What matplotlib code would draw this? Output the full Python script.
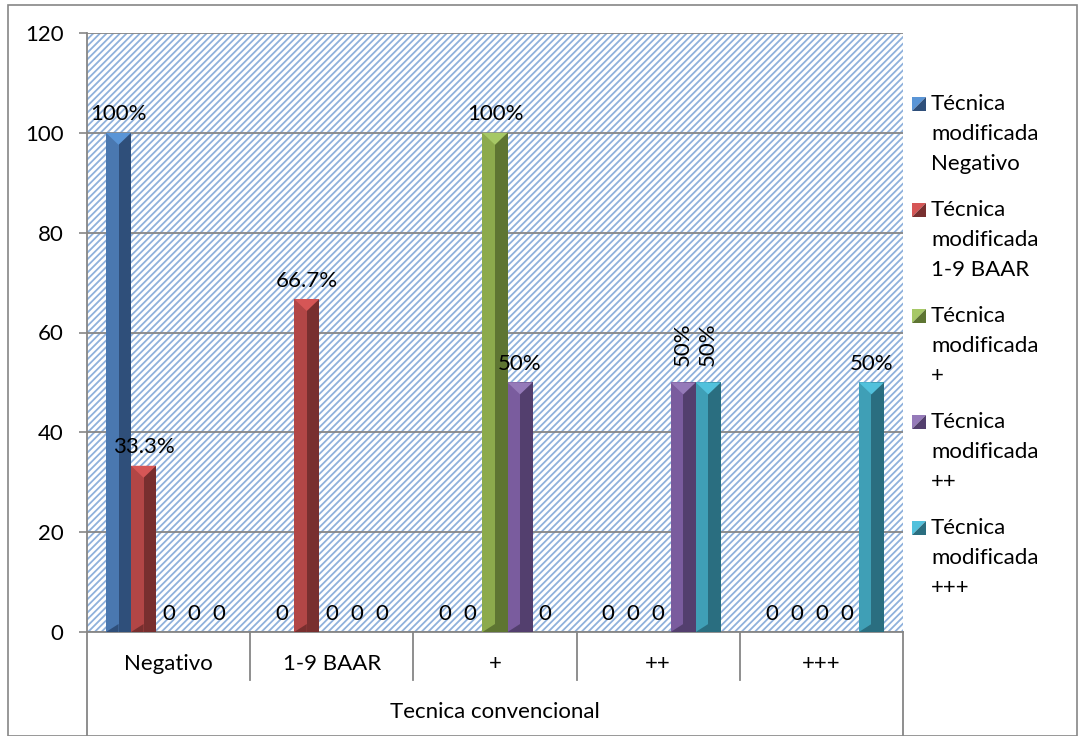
import numpy as np
import matplotlib
matplotlib.use("Agg")
import matplotlib.pyplot as plt
from matplotlib.patches import Polygon, Rectangle

plt.rcParams['font.family'] = ['Lato', 'DejaVu Sans']
plt.rcParams['hatch.linewidth'] = 1.3

# data: conventional technique (x groups) vs modified technique (series), %
categories = ['Negativo', '1-9 BAAR', '+', '++', '+++']
series_names = ['Técnica\nmodificada\nNegativo', 'Técnica\nmodificada\n1-9 BAAR',
                'Técnica\nmodificada\n+', 'Técnica\nmodificada\n++',
                'Técnica\nmodificada\n+++']
neg_vals = [100, 0, 0, 0, 0]
baar_vals = [33.3, 66.7, 0, 0, 0]
plus1_vals = [0, 0, 100, 0, 0]
plus2_vals = [0, 0, 50, 50, 0]
plus3_vals = [0, 0, 0, 50, 50]
values = [neg_vals, baar_vals, plus1_vals, plus2_vals, plus3_vals]
rotated_group = 3  # labels of "++" are drawn vertically

# (light side, dark side, top facet)
colors = [('#4a78b0', '#2f4f7a', '#5a95d6'),
          ('#b24646', '#782f2f', '#d65656'),
          ('#8caa4c', '#5e7532', '#a6c866'),
          ('#7a5c9e', '#533f6e', '#957ab9'),
          ('#3f9fb6', '#2a6e80', '#52c1dc')]

FS = 16
W, H = 1081, 736
fig = plt.figure(figsize=(W / 100, H / 100), dpi=100)
ax = fig.add_axes([87 / W, 1 - 632 / H, (903 - 87) / W, (632 - 33) / H])

# outer chart border
fig.patches.append(Rectangle((8 / W, 0), (1077 - 8) / W, 1 - 5 / H,
                             transform=fig.transFigure, fill=False,
                             edgecolor='#868686', lw=1.2))

# hatched plot area
ax.add_patch(Rectangle((0, 0), 1, 1, transform=ax.transAxes, facecolor='white',
                       hatch='/////', edgecolor='#8fb1dc', lw=0, zorder=0))

x = np.arange(len(categories))
slot = 25 / 163
top_depth = 2.4
bot_depth = 1.6

for j, vals in enumerate(values):
    light, dark, topc = colors[j]
    xs = x + (j - 2) * slot
    ax.bar(xs - slot / 4, vals, width=slot / 2, color=light, lw=0, zorder=3)
    ax.bar(xs + slot / 4, vals, width=slot / 2, color=dark, lw=0, zorder=3)
    for k, (xc, v) in enumerate(zip(xs, vals)):
        if v > 0:
            ax.add_patch(Polygon([(xc - slot / 2, v), (xc + slot / 2, v),
                                  (xc, v - top_depth)], closed=True,
                                 color=topc, lw=0, zorder=4))
            ax.add_patch(Polygon([(xc - slot / 2, 0), (xc, bot_depth), (xc, 0)],
                                 closed=True, color=dark, lw=0, zorder=4))
            label = f'{v:g}%'
        else:
            label = '0'
        if k == rotated_group and v > 0:
            ax.annotate(label, (xc, v), xytext=(0, 12), textcoords='offset points',
                        ha='center', va='bottom', rotation=90, fontsize=FS, zorder=5)
        else:
            ax.annotate(label, (xc, v), xytext=(0, 6), textcoords='offset points',
                        ha='center', va='bottom', fontsize=FS, zorder=5)

ax.set_xlim(-0.5, len(categories) - 0.5)
ax.set_ylim(0, 120)
ax.set_yticks(range(0, 121, 20))
ax.yaxis.grid(True, color='#868686', lw=1.3, zorder=1)
ax.set_axisbelow(True)
ax.tick_params(axis='y', length=5.8, width=1.2, color='#868686', pad=11, labelsize=FS)
ax.set_xticks([])
for side in ['top', 'right']:
    ax.spines[side].set_visible(False)
for side in ['left', 'bottom']:
    ax.spines[side].set_color('#868686')
    ax.spines[side].set_linewidth(1.3)

# two-level category axis
xt = ax.get_xaxis_transform()
for c, name in zip(x, categories):
    ax.text(c, -0.0534, name, transform=xt, ha='center', va='center', fontsize=FS)
ax.text((len(categories) - 1) / 2, -0.1336, 'Tecnica convencional', transform=xt,
        ha='center', va='center', fontsize=FS)
for b in np.arange(-0.5, len(categories), 1.0):
    low = -0.172 if b in (-0.5, len(categories) - 0.5) else -0.080
    ax.plot([b, b], [0, low], transform=xt, color='#868686', lw=1.3, clip_on=False)

# legend on the right
for j, name in enumerate(series_names):
    light, dark, topc = colors[j]
    y0 = 104 + 106 * j
    sx0, sx1 = 912, 926
    sy0, sy1 = y0 - 7, y0 + 7
    fig.patches.append(Polygon([(sx0 / W, 1 - sy0 / H), (sx1 / W, 1 - sy0 / H),
                                (sx0 / W, 1 - sy1 / H)], closed=True,
                               transform=fig.transFigure, color=topc, lw=0))
    fig.patches.append(Polygon([(sx1 / W, 1 - sy0 / H), (sx1 / W, 1 - sy1 / H),
                                (sx0 / W, 1 - sy1 / H)], closed=True,
                               transform=fig.transFigure, color=dark, lw=0))
    for i, line in enumerate(name.split('\n')):
        fig.text(931 / W, 1 - (y0 + 30 * i) / H, line, ha='left', va='center',
                 fontsize=FS)

fig.savefig('out.png', dpi=100)
